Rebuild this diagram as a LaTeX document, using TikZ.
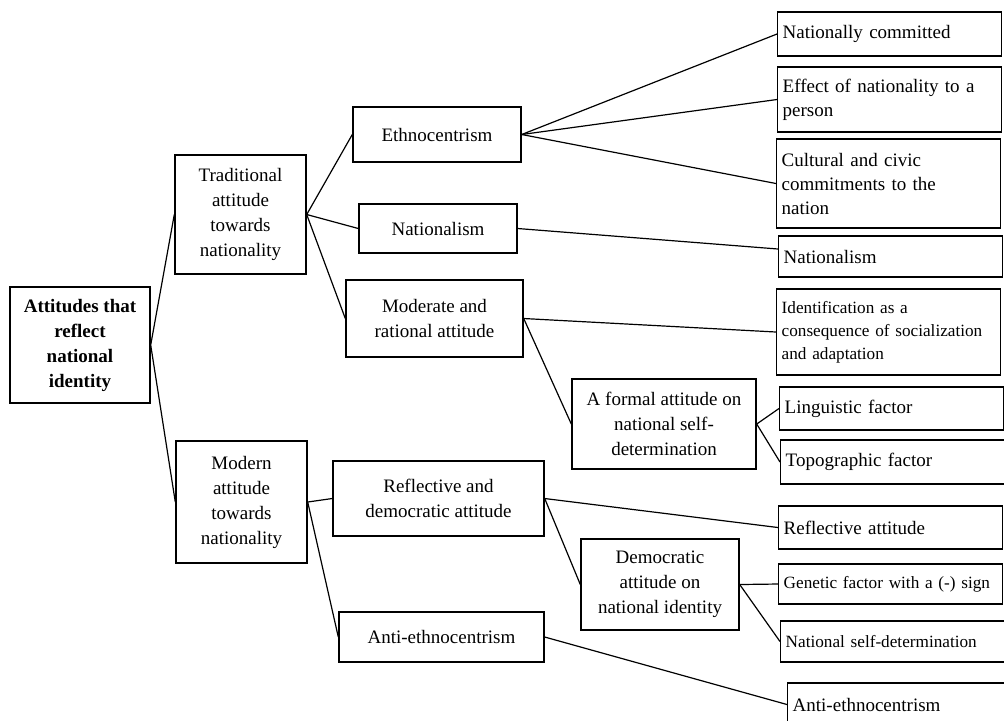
\documentclass[tikz,border=0pt]{standalone}
\usepackage{fontspec}
\setmainfont{Liberation Serif}
\usepackage{tikz}
\usetikzlibrary{positioning}

\begin{document}
\begin{tikzpicture}[x=0.5pt,y=-0.5pt,line width=0.7pt,
    box/.style={draw, align=center, inner sep=2pt, font=\fontsize{9.5}{12.5}\selectfont},
    leaf/.style={draw, anchor=west, align=left, text width=107pt, inner xsep=2.5pt, inner ysep=1pt, minimum height=21.5pt, font=\fontsize{9.5}{12}\selectfont},
    small/.style={font=\fontsize{8.6}{11.5}\selectfont},
    link/.style={line width=0.6pt}]
    \useasboundingbox (0,0) rectangle (1004,720);
    \clip (0,0) rectangle (1004,720);
    % first two levels
    \node[box, minimum width=70pt, minimum height=58pt] (root) at (80,345) {\textbf{Attitudes that}\\\textbf{reflect}\\\textbf{national}\\\textbf{identity}};
    \node[box, minimum width=65.5pt, minimum height=59.5pt] (trad) at (240.5,214.5) {Traditional\\attitude\\towards\\nationality};
    \node[box, minimum width=65.5pt, minimum height=61pt] (modern) at (241.5,502) {Modern\\attitude\\towards\\nationality};
    % third level
    \node[box, minimum width=84pt, minimum height=27.5pt] (ethno) at (437,134.5) {Ethnocentrism};
    \node[box, minimum width=79pt, minimum height=24.5pt] (natm) at (438,228.5) {Nationalism};
    \node[box, minimum width=88.5pt, minimum height=38.5pt] (moder) at (434.5,318.5) {Moderate and\\rational attitude};
    \node[box, minimum width=105.5pt, minimum height=37.5pt] (refdem) at (438.5,498.5) {Reflective and\\democratic attitude};
    \node[box, minimum width=102.5pt, minimum height=25pt] (antim) at (441.5,637) {Anti-ethnocentrism};
    \node[box, minimum width=92pt, minimum height=45pt] (formal) at (664,424) {A formal attitude on\\national self-\\determination};
    \node[box, minimum width=79pt, minimum height=45.5pt] (democ) at (660,584.5) {Democratic\\attitude on\\national identity};
    % right column
    \node[leaf, minimum height=22pt] (natcom) at (777,34) {Nationally committed};
    \node[leaf, minimum height=32.5pt] (effect) at (777,99.5) {Effect of nationality to a\\person};
    \node[leaf, minimum height=44.5pt] (cultural) at (776,183.5) {Cultural and civic\\commitments to the\\nation};
    \node[leaf, minimum height=20.5pt] (natleaf) at (778,256.5) {Nationalism};
    \node[leaf, small, minimum height=43pt] (ident) at (776,332) {Identification as a\\consequence of socialization\\and adaptation};
    \node[leaf] (ling) at (779,408.5) {Linguistic factor};
    \node[leaf, minimum height=22pt] (topo) at (780,462) {Topographic factor};
    \node[leaf] (reflect) at (778,527.5) {Reflective attitude};
    \node[leaf, small, minimum height=20pt] (genetic) at (778,584) {Genetic factor with a (-) sign};
    \node[leaf, small, minimum height=20.5pt] (selfdet) at (780,641.5) {National self-determination};
    \node[leaf] (antileaf) at (787,704.5) {Anti-ethnocentrism};
    % connectors
    \foreach \a/\b in {root/trad,root/modern,trad/ethno,trad/natm,trad/moder,modern/refdem,modern/antim,
        ethno/natcom,ethno/effect,ethno/cultural,moder/ident,moder/formal,formal/ling,formal/topo,
        refdem/reflect,refdem/democ,democ/genetic,democ/selfdet,antim/antileaf}
        {\draw[link] (\a.east) -- (\b.west);}
    \draw[link] (natm.east) -- ([yshift=3.75pt]natleaf.west);
\end{tikzpicture}
\end{document}
